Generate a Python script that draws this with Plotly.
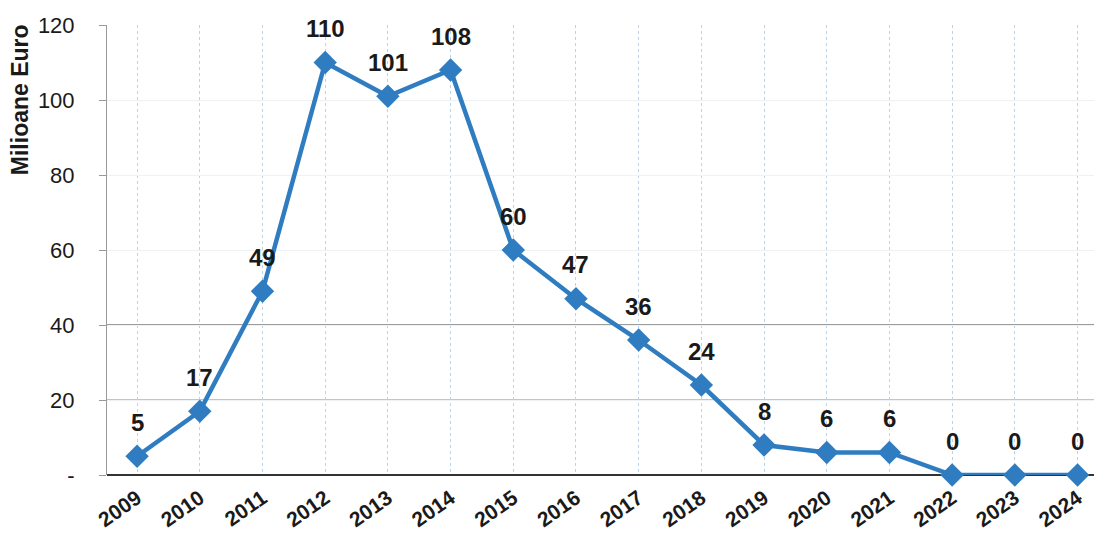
import plotly.graph_objects as go

years = ["2009", "2010", "2011", "2012", "2013", "2014", "2015", "2016",
         "2017", "2018", "2019", "2020", "2021", "2022", "2023", "2024"]
values = [5, 17, 49, 110, 101, 108, 60, 47, 36, 24, 8, 6, 6, 0, 0, 0]
y_ticks = [0, 20, 40, 60, 80, 100, 120]
y_tick_text = ["-", "20", "40", "60", "80", "100", "120"]
y_title = "Milioane Euro"

blue = "#2F7DC0"
font = "Liberation Sans, Arial, sans-serif"

fig = go.Figure()
fig.add_trace(go.Scatter(
    x=years, y=values, mode="lines+markers",
    line=dict(color=blue, width=4.5),
    marker=dict(symbol="diamond", size=18, color=blue),
    cliponaxis=False, hoverinfo="skip",
))

for i, v in enumerate(values):
    fig.add_annotation(x=i, xref="x", y=v, yref="y", text=f"<b>{v}</b>",
                       showarrow=False, yshift=34,
                       font=dict(family=font, size=24, color="#1a1a1a"))

fig.add_annotation(xref="paper", yref="paper", x=-0.0874, y=0.833, xanchor="center",
                   yanchor="middle", textangle=-90, showarrow=False,
                   text=f"<b>{y_title}</b>",
                   font=dict(family=font, size=23, color="#1a1a1a"))

# emphasised reference lines
fig.add_shape(type="line", xref="paper", x0=0, x1=1, y0=40, y1=40,
              line=dict(color="#3a3a3a", width=1.2), layer="below")
fig.add_shape(type="line", xref="paper", x0=0, x1=1, y0=20, y1=20,
              line=dict(color="#6f8fb8", width=1.2), layer="below")

fig.update_layout(
    width=1094, height=530,
    margin=dict(l=99, r=0, t=17, b=63, autoexpand=False),
    paper_bgcolor="white", plot_bgcolor="white",
    showlegend=False,
    xaxis=dict(
        type="category", range=[-0.48, 15.39], automargin=False,
        showgrid=True, gridcolor="#b8d3ee", griddash="dot", gridwidth=1,
        tickangle=-35, ticklabelstandoff=6,
        tickfont=dict(family=font, size=21, color="#1a1a1a", weight="bold"),
        showline=False, zeroline=False, ticks="",
    ),
    yaxis=dict(
        range=[0, 120], tickvals=y_ticks, ticktext=y_tick_text, automargin=False,
        showgrid=True, gridcolor="#eef2f4", gridwidth=1,
        zeroline=True, zerolinecolor="#333333", zerolinewidth=2,
        showline=True, linecolor="#9a9a9a", linewidth=1,
        ticks="outside", ticklen=7, tickcolor="#9a9a9a",
        ticklabelstandoff=20,
        tickfont=dict(family=font, size=22, color="#1a1a1a"),
    ),
)

fig.write_html("out.html")
